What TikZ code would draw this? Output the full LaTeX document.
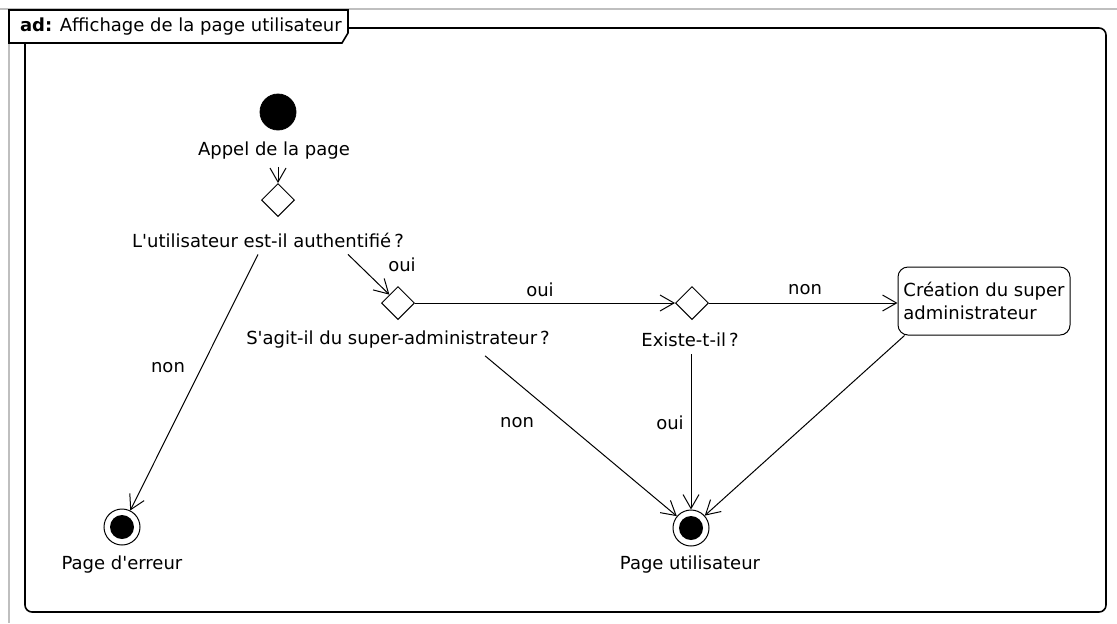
\documentclass[tikz,border=0pt]{standalone}
\usepackage{fontspec}
\setmainfont{DejaVu Sans}
\usetikzlibrary{shapes.geometric,arrows.meta}

\begin{document}
\begin{tikzpicture}[x=0.5pt,y=-0.5pt,
  font=\fontsize{9}{11.5}\selectfont,
  decision/.style={draw, diamond, fill=white, minimum width=16.5pt, minimum height=16.5pt, inner sep=0pt, line width=0.5pt},
  initial/.style={draw, circle, fill, minimum size=18pt, inner sep=0pt},
  final/.style={draw, circle, minimum size=18pt, inner sep=0pt, line width=0.5pt,
    path picture={\fill (path picture bounding box.center) circle (6pt);}},
  activity/.style={draw, rounded corners=5pt, minimum width=86pt, minimum height=34pt, align=left, inner sep=1pt, line width=0.5pt},
  flow/.style={line width=0.5pt, -{Straight Barb[length=7pt, width=8pt]}}]
            \useasboundingbox (0,0) rectangle (1117,623);
            \draw[gray!50, line width=0.8pt] (0,9) -- (1117,9) (9,9) -- (9,623);
            \draw[line width=0.8pt, rounded corners=3.5pt] (25,28) rectangle (1106,612);
            \draw[line width=0.8pt, fill=white] (9,10) -- (348,10) -- (348,33) -- (342,43) -- (9,43) -- cycle;
            \draw (13,27) node[anchor=west] (title) {\textbf{ad:} Affichage de la page utilisateur};

            \node (start) at (278,112) [initial] {};
            \draw (274,151) node (appel) {Appel de la page};

            \node (d1) at (278,200) [decision] {};
            \draw (268,240) node (auth) {L\textquotesingle utilisateur est-il authentifié\,?};

            \node (d2) at (398,303) [decision] {};
            \draw (398,340) node (sagit) {S\textquotesingle agit-il du super-administrateur\,?};

            \node (d3) at (692,303) [decision] {};
            \draw (690,340) node (existe) {Existe-t-il\,?};

            \node (creation) at (984,301) [activity] {Création du super\\administrateur};

            \node (errpage) at (122,527) [final] {};
            \draw (122,565) node (errlabel) {Page d\textquotesingle erreur};
            \node (userpage) at (691,528) [final] {};
            \draw (690,565) node (userlabel) {Page utilisateur};

            \draw (402,265) node (oui1) {oui};
            \draw (540,290) node (oui2) {oui};
            \draw (805,290) node (non1) {non};
            \draw (168,368) node (non2) {non};
            \draw (517,423) node (non3) {non};
            \draw (670,423) node (oui3) {oui};

            \draw[flow] (appel.south -| d1) -- (d1);
            \draw[flow] ([xshift=40pt]auth.south) -- (d2);
            \draw[flow] ([xshift=-5pt]auth.south) -- (errpage);
            \draw[flow] (d2) -- (d3);
            \draw[flow] (d3) -- (d3 -| creation.west);
            \draw[flow] ([xshift=43.5pt]sagit.south) -- (userpage);
            \draw[flow] (existe.south -| userpage) -- (userpage);
            \draw[flow] ([xshift=3.5pt]creation.south west) -- (userpage);
\end{tikzpicture}
\end{document}
